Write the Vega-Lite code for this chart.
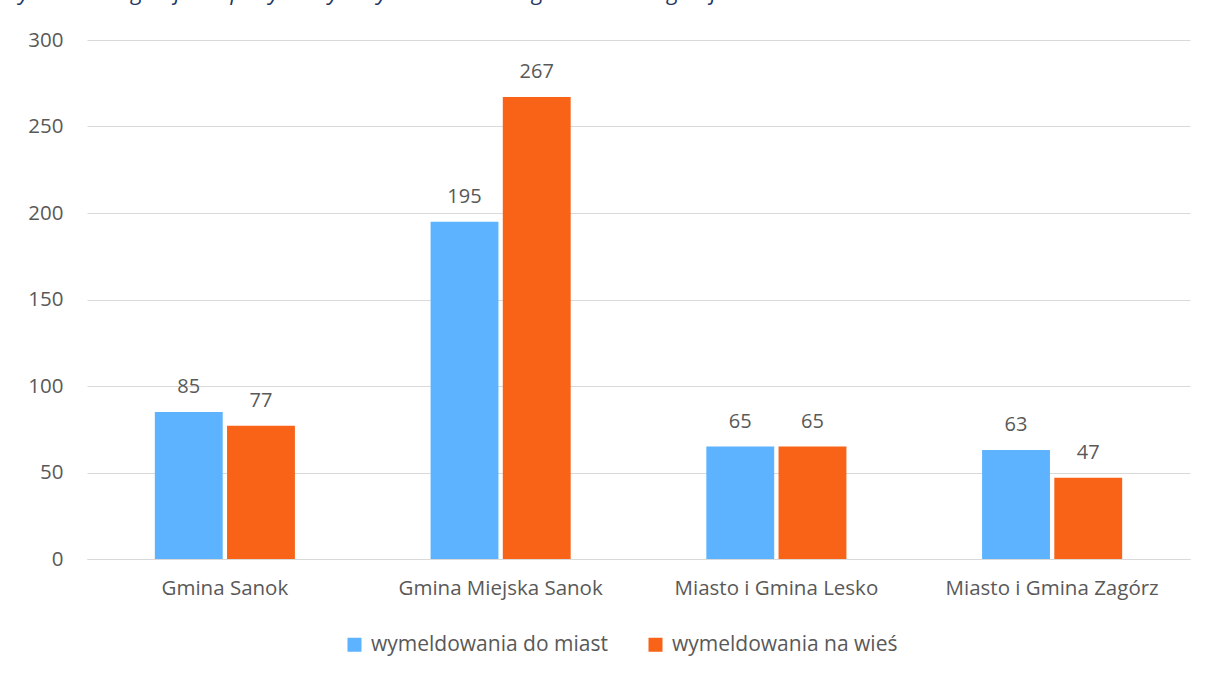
{
  "$schema": "https://vega.github.io/schema/vega-lite/v6.json",
  "width": 1103,
  "height": 519,
  "autosize": {"type": "none"},
  "padding": {"left": 87, "top": 40, "right": 19, "bottom": 116},
  "background": "white",
  "title": {
    "text": "Wykres 16 Migracja na pobyt stały – wymeldowania wg kierunku migracji",
    "anchor": "start",
    "frame": "group",
    "dx": -87,
    "offset": 8,
    "baseline": "alphabetic",
    "font": "Open Sans",
    "fontStyle": "italic",
    "fontWeight": "normal",
    "fontSize": 22.5,
    "color": "#1F3864"
  },
  "data": {
    "values": [
      {"gmina": "Gmina Sanok", "kierunek": "wymeldowania do miast", "wartosc": 85},
      {"gmina": "Gmina Sanok", "kierunek": "wymeldowania na wieś", "wartosc": 77},
      {"gmina": "Gmina Miejska Sanok", "kierunek": "wymeldowania do miast", "wartosc": 195},
      {"gmina": "Gmina Miejska Sanok", "kierunek": "wymeldowania na wieś", "wartosc": 267},
      {"gmina": "Miasto i Gmina Lesko", "kierunek": "wymeldowania do miast", "wartosc": 65},
      {"gmina": "Miasto i Gmina Lesko", "kierunek": "wymeldowania na wieś", "wartosc": 65},
      {"gmina": "Miasto i Gmina Zagórz", "kierunek": "wymeldowania do miast", "wartosc": 63},
      {"gmina": "Miasto i Gmina Zagórz", "kierunek": "wymeldowania na wieś", "wartosc": 47}
    ]
  },
  "encoding": {
    "x": {
      "field": "gmina",
      "type": "nominal",
      "sort": null,
      "scale": {"paddingInner": 0.492, "paddingOuter": 0.246},
      "axis": {
        "title": null,
        "labelAngle": 0,
        "labelFont": "Open Sans",
        "labelFontSize": 20.5,
        "labelColor": "#595959",
        "labelPadding": 19,
        "labelLimit": 0,
        "ticks": false,
        "domainColor": "#D9D9D9",
        "domainWidth": 1
      }
    },
    "xOffset": {
      "field": "kierunek",
      "type": "nominal",
      "sort": null,
      "scale": {"paddingInner": 0.06}
    },
    "y": {
      "field": "wartosc",
      "type": "quantitative",
      "scale": {"domain": [0, 300], "nice": false},
      "axis": {
        "title": null,
        "values": [0, 50, 100, 150, 200, 250, 300],
        "labelFont": "Open Sans",
        "labelFontSize": 20.5,
        "labelColor": "#595959",
        "labelPadding": 24,
        "ticks": false,
        "domain": false,
        "gridColor": "#D9D9D9",
        "gridWidth": 1
      }
    }
  },
  "layer": [
    {
      "mark": {"type": "bar"},
      "encoding": {
        "color": {
          "field": "kierunek",
          "type": "nominal",
          "sort": null,
          "scale": {"range": ["#5DB3FF", "#F96318"]},
          "legend": {
            "title": null,
            "orient": "none",
            "direction": "horizontal",
            "legendX": 257,
            "legendY": 594,
            "padding": 0,
            "symbolType": "square",
            "symbolSize": 196,
            "symbolStrokeWidth": 0,
            "symbolOpacity": 1,
            "labelFont": "Open Sans",
            "labelFontSize": 21,
            "labelColor": "#595959",
            "labelOffset": 6,
            "labelLimit": 0,
            "columnPadding": 37
          }
        }
      }
    },
    {
      "mark": {"type": "text", "baseline": "bottom", "dy": -15, "font": "Open Sans", "fontSize": 20, "color": "#595959"},
      "encoding": {
        "text": {"field": "wartosc", "type": "quantitative"}
      }
    }
  ],
  "config": {
    "view": {"stroke": null}
  }
}
